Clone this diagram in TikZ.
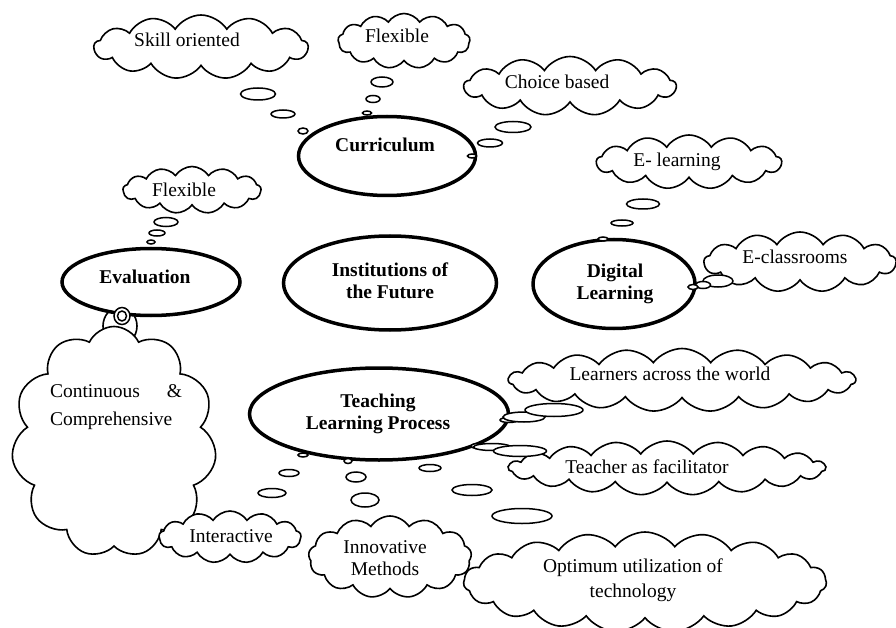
\documentclass[tikz,border=0pt]{standalone}
\usepackage{fontspec}
\setmainfont{Liberation Serif}
\usetikzlibrary{shapes.symbols,shapes.geometric}
\tikzset{
  topic/.style={ellipse, draw, line width=3.5pt, fill=white, inner sep=0pt},
  thought/.style={cloud, draw, line width=1.6pt, fill=white, cloud ignores aspect, cloud puffs=13, cloud puff arc=115, inner sep=0pt},
  widethought/.style={thought, cloud puffs=19, cloud puff arc=105},
  bubble/.style={ellipse, draw, line width=1.5pt, fill=white, inner sep=0pt},
  topictext/.style={font=\fontsize{19.5}{22}\selectfont\bfseries, align=center},
}
\begin{document}
\begin{tikzpicture}[x=1pt,y=-1pt,font=\fontsize{19.5}{22}\selectfont]
  \useasboundingbox (0,0) rectangle (896,628);
  % thought clouds
  \node[thought, minimum width=214, minimum height=64] (skill) at (201,47) {};
  \node[thought, minimum width=132, minimum height=55] (flexcur) at (404,41) {};
  \node[thought, minimum width=212, minimum height=59] (choice) at (570,86) {};
  \node[thought, minimum width=185, minimum height=54] (elearn) at (689,162) {};
  \node[thought, minimum width=192, minimum height=60] (eclass) at (800,262) {};
  \node[thought, minimum width=138, minimum height=47] (flexeval) at (192,190) {};
  \node[ellipse, draw, line width=1.6pt, fill=white, minimum width=34, minimum height=38] (contpuff) at (120,326) {};
  \node[thought, cloud puffs=11, cloud puff arc=130, minimum width=205, minimum height=231] (cont) at (114,442) {};
  \node[thought, minimum width=142, minimum height=52] (inter) at (230,537) {};
  \node[thought, minimum width=163, minimum height=82] (innov) at (390,557) {};
  \node[widethought, minimum width=347, minimum height=63] (learners) at (682,380) {};
  \node[widethought, minimum width=317, minimum height=54] (teacher) at (667,468) {};
  \node[widethought, minimum width=363, minimum height=100] (optimum) at (645,582) {};
  % cloud texts
  \node[anchor=base] (skilltxt) at (187,47) {Skill oriented};
  \node[anchor=base] (flexcurtxt) at (397,43) {Flexible};
  \node[anchor=base] (choicetxt) at (557,89) {Choice based};
  \node[anchor=base] (elearntxt) at (677,167) {E- learning};
  \node[anchor=base] (eclasstxt) at (795,263) {E-classrooms};
  \node[anchor=base] (flexevaltxt) at (184,197) {Flexible};
  \node[text width=132pt, align=left, inner sep=0pt, font=\fontsize{19.5}{28}\selectfont] (conttxt) at (116,407)
    {Continuous \hfill \&\\Comprehensive};
  \node[anchor=base] (intertxt) at (231,542) {Interactive};
  \node[align=center] (innovtxt) at (385,558) {Innovative\\Methods};
  \node[anchor=base] (learnerstxt) at (670,380) {Learners across the world};
  \node[anchor=base] (teachertxt) at (647,473) {Teacher as facilitator};
  \node[align=center, font=\fontsize{19.5}{25}\selectfont] (optimumtxt) at (633,580) {Optimum utilization of\\technology};
  % main topics
  \node[topic, minimum width=177, minimum height=79] (curr) at (387,156) {};
  \node[topic, minimum width=178, minimum height=67] (eval) at (151,282) {};
  \node[topic, minimum width=213, minimum height=94] (inst) at (390,283) {};
  \node[topic, minimum width=162, minimum height=89] (digi) at (614,284) {};
  \node[topic, minimum width=259, minimum height=92] (teach) at (379,414) {};
  \node[topictext, anchor=base] (currtxt) at (385,152) {Curriculum};
  \node[topictext, anchor=base] (evaltxt) at (145,283) {Evaluation};
  \node[topictext] (insttxt) at (390,281) {Institutions of\\the Future};
  \node[topictext] (digitxt) at (615,284) {Digital\\Learning};
  \node[topictext] (teachtxt) at (378,414) {Teaching\\Learning Process};
  % trails of bubbles
  \foreach \px/\py/\bw/\bh [count=\i] in {
      258/94/35/12, 283/114/24/8, 303/131/10/6,
      382/82/22/10, 373/99/14/7, 367/113/9/4,
      513/127/36/11, 490/143/25/8, 472/156/9/4,
      643/204/33/10, 622/223/22/6, 603/239/10/4,
      718/281/30/12, 703/285/15/7, 693/287/10/5,
      166/222/24/9, 157/233/16/6, 151/242/8/4,
      303/455/10/4, 289/473/20/7, 272/493/28/9,
      348/461/8/5, 356/477/20/10, 365/500/28/14,
      430/468/22/7, 472/490/40/11, 522/516/60/15,
      509/420/18/5, 524/417/42/10, 554/410/58/13,
      478/446/14/5, 492/447/37/7, 520/451/53/11}
    \node[bubble, minimum width=\bw, minimum height=\bh] (bub\i) at (\px,\py) {};
  \node[bubble, minimum width=16, minimum height=17] (ring) at (122,316) {};
  \node[bubble, minimum width=9, minimum height=10] (ringin) at (122,316) {};
\end{tikzpicture}
\end{document}
